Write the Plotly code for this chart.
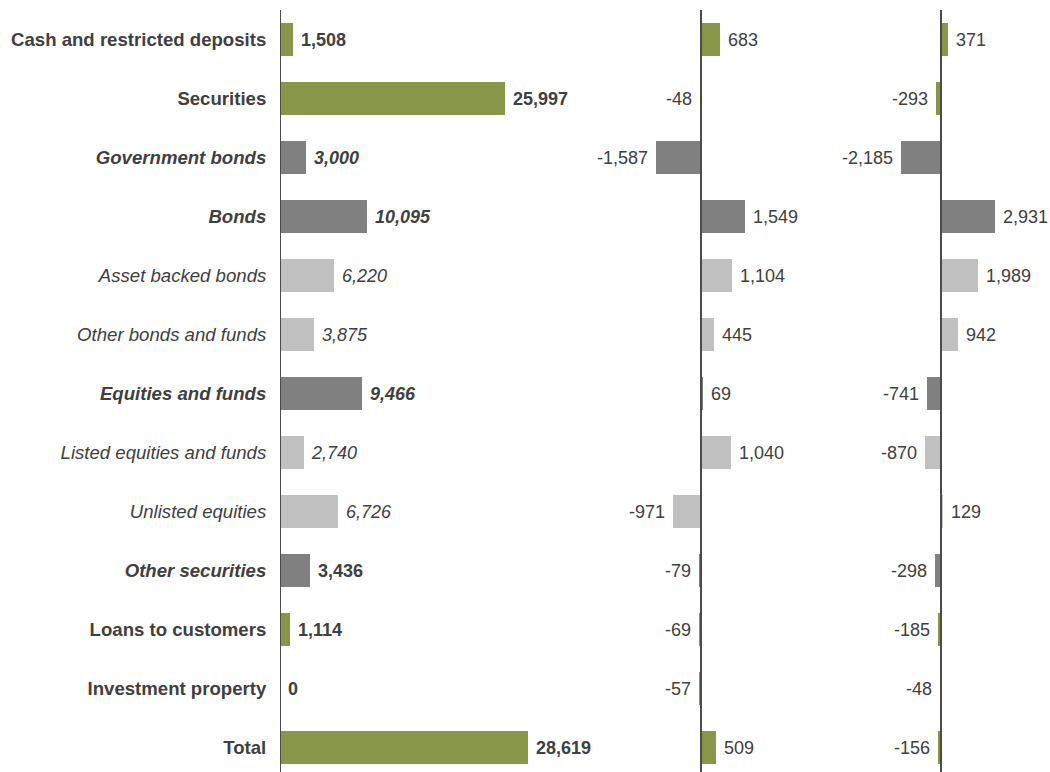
import plotly.graph_objects as go

categories = [
    "Cash and restricted deposits",
    "Securities",
    "Government bonds",
    "Bonds",
    "Asset backed bonds",
    "Other bonds and funds",
    "Equities and funds",
    "Listed equities and funds",
    "Unlisted equities",
    "Other securities",
    "Loans to customers",
    "Investment property",
    "Total",
]
balance = [1508, 25997, 3000, 10095, 6220, 3875, 9466, 2740, 6726, 3436, 1114, 0, 28619]
change_1 = [683, -48, -1587, 1549, 1104, 445, 69, 1040, -971, -79, -69, -57, 509]
change_2 = [371, -293, -2185, 2931, 1989, 942, -741, -870, 129, -298, -185, -48, -156]

# level of each row: main / group / sub
levels = ["main", "main", "group", "group", "sub", "sub", "group", "sub", "sub", "group", "main", "main", "main"]

GREEN = "#879648"
DARK = "#808080"
LIGHT = "#C0C0C0"
TEXT = "#404040"
FONT = "Liberation Sans, Arial, sans-serif"
NBSP = "\u00a0"

colors = {"main": GREEN, "group": DARK, "sub": LIGHT}
bar_colors = [colors[l] for l in levels]


def label_style(s, level):
    if level == "main":
        return f"<b>{s}</b>"
    if level == "group":
        return f"<b><i>{s}</i></b>"
    return f"<i>{s}</i>"


ticktext = [label_style(c, l) for c, l in zip(categories, levels)]


def pad(s, v):
    return NBSP + s if v >= 0 else s + NBSP


text1 = []
for c, v, l in zip(categories, balance, levels):
    s = f"{v:,}"
    if c == "Other securities":
        s = f"<b>{s}</b>"
    else:
        s = label_style(s, l)
    text1.append(pad(s, v))
text2 = [pad(f"{v:,}", v) for v in change_1]
text3 = [pad(f"{v:,}", v) for v in change_2]

fig = go.Figure()
for vals, txt, xa in [
    (balance, text1, "x"),
    (change_1, text2, "x2"),
    (change_2, text3, "x3"),
]:
    fig.add_trace(
        go.Bar(
            x=vals,
            y=categories,
            orientation="h",
            marker=dict(color=bar_colors, line=dict(width=0)),
            width=0.56,
            text=txt,
            textposition="outside",
            constraintext="none",
            cliponaxis=False,
            textfont=dict(family=FONT, size=18, color=TEXT),
            xaxis=xa,
            yaxis="y",
            showlegend=False,
            hoverinfo="skip",
        )
    )

W = 1050.0
fig.update_layout(
    width=1050,
    height=772,
    margin=dict(l=0, r=0, t=10, b=0),
    paper_bgcolor="white",
    plot_bgcolor="white",
    font=dict(family=FONT, size=18, color=TEXT),
    bargap=0,
    xaxis=dict(domain=[280 / W, 590 / W], range=[0, 35772], visible=False),
    xaxis2=dict(domain=[590 / W, 830 / W], range=[-3895, 4526], visible=False),
    xaxis3=dict(domain=[830 / W, 1.0], range=[-6000, 5892], visible=False),
    yaxis=dict(
        range=[12.42, -0.5],
        tickmode="array",
        tickvals=categories,
        ticktext=ticktext,
        ticks="outside",
        ticklen=9,
        tickcolor="rgba(0,0,0,0)",
        showgrid=False,
        zeroline=False,
        showline=False,
        tickfont=dict(family=FONT, size=18.6, color=TEXT),
    ),
)

for xr in ["x", "x2", "x3"]:
    fig.add_shape(
        type="line",
        xref=xr,
        yref="paper",
        x0=0,
        x1=0,
        y0=0,
        y1=1,
        line=dict(color="#4F4A45", width=2),
    )

fig.write_html(
    "out.html",
    config={"displayModeBar": False},
    post_script="document.body.style.margin='0';document.body.style.overflow='hidden';",
)
